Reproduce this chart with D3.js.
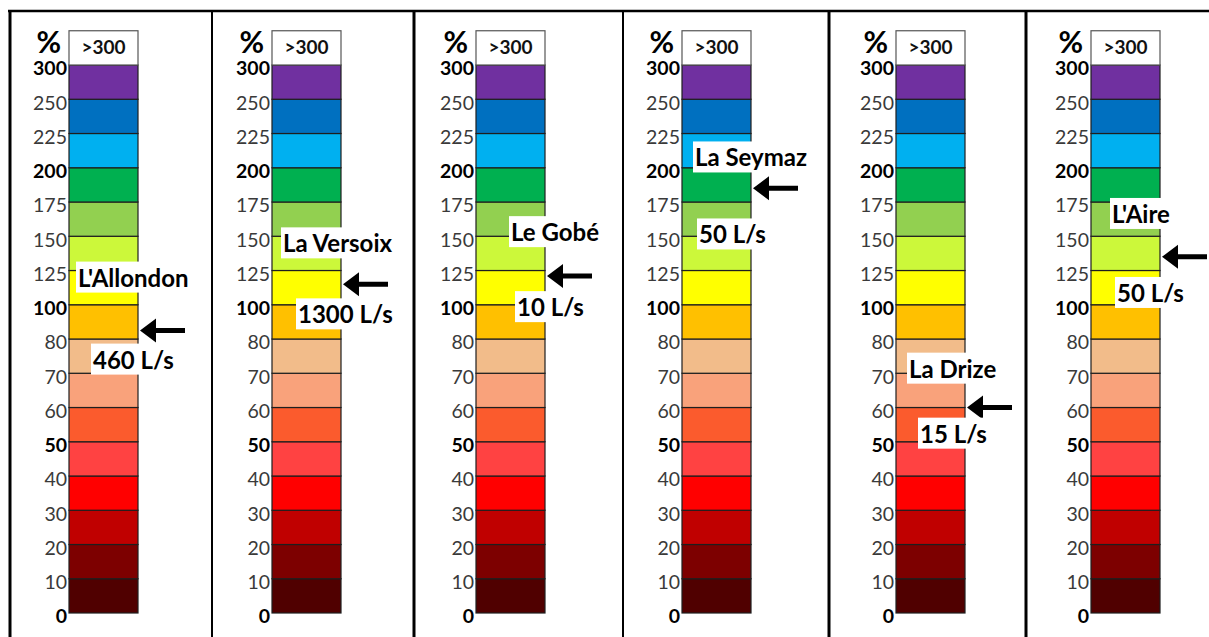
<!DOCTYPE html>
<html>
<head>
<meta charset="utf-8">
<script src="https://cdn.jsdelivr.net/npm/d3@7"></script>
<style>
  html, body { margin: 0; padding: 0; background: #fff; }
  svg { display: block; font-family: Lato, "Noto Sans", sans-serif; }
</style>
</head>
<body>
<svg id="chart" width="1209" height="637"></svg>
<script>
// ---------- data ----------
const boundaries = [0, 10, 20, 30, 40, 50, 60, 70, 80, 100, 125, 150, 175, 200, 225, 250, 300];
const tickLabels = ["0", "10", "20", "30", "40", "50", "60", "70", "80", "100", "125", "150", "175", "200", "225", "250", "300"];
const boldTicks = ["0", "50", "100", "200", "300"];
const bandColors = ["#500000", "#7d0000", "#c00000", "#ff0000", "#ff4242", "#fb5b2d", "#f9a27b", "#f2bc8a",
                    "#ffc000", "#ffff00", "#ccf83a", "#92d050", "#00b050", "#00b0f0", "#0070c0", "#7030a0"];
const topLabel = ">300";
const rivers = ["L'Allondon", "La Versoix", "Le Gobé", "La Seymaz", "La Drize", "L'Aire"];
const flows = ["460 L/s", "1300 L/s", "10 L/s", "50 L/s", "15 L/s", "50 L/s"];
const levels = [85, 115, 121, 185, 60, 135];

// ---------- layout ----------
const W = 1209, H = 637;
const dividers = [10, 212, 414, 623, 829, 1026];
const dividerWidths = [3, 2, 3, 2, 3, 3];
const barLefts = [69, 272, 476, 682, 896, 1091];
const barW = 69;
const yTop = 65, yBottom = 613;
// label offsets relative to the bar left and the arrow y (layout only)
const nameDX = [9, 11, 35, 13, 13, 21];
const nameDY = [-50, -38, -41, -28, -36, -40];
const flowDX = [24, 26, 41, 17, 24, 26];
const flowDY = [32, 33, 34, 49, 29, 39];

const svg = d3.select("#chart");
svg.append("rect").attr("width", W).attr("height", H).attr("fill", "#fff");

// positional scale: equal spacing between boundaries
const yPoint = d3.scalePoint().domain(tickLabels).range([yBottom, yTop]);
const yVal = d3.scaleLinear().domain(boundaries).range(tickLabels.map(t => yPoint(t)));
const bandH = yPoint.step();

// table grid
svg.append("line").attr("x1", 8).attr("x2", W).attr("y1", 11).attr("y2", 11)
  .attr("stroke", "#000").attr("stroke-width", 2.5);
dividers.forEach((x, i) => {
  svg.append("line").attr("x1", x).attr("x2", x).attr("y1", 10).attr("y2", H)
    .attr("stroke", "#000").attr("stroke-width", dividerWidths[i]);
});

const bands = d3.range(bandColors.length).map(i => ({ lo: boundaries[i], hi: boundaries[i + 1], color: bandColors[i] }));

barLefts.forEach((bx, p) => {
  const g = svg.append("g");
  const x = d3.scaleLinear().domain([0, 1]).range([bx, bx + barW]);

  // bands
  g.selectAll("rect.band").data(bands).join("rect")
    .attr("class", "band")
    .attr("x", x(0)).attr("width", x(1) - x(0))
    .attr("y", d => yVal(d.hi)).attr("height", d => yVal(d.lo) - yVal(d.hi))
    .attr("fill", d => d.color)
    .attr("stroke", "#1e1e1e").attr("stroke-width", 1.2);

  // top ">300" box
  g.append("rect")
    .attr("x", x(0)).attr("width", x(1) - x(0))
    .attr("y", yVal(300) - bandH).attr("height", bandH)
    .attr("fill", "#fff").attr("stroke", "#555").attr("stroke-width", 1.2);
  g.append("text")
    .attr("x", (x(0) + x(1)) / 2).attr("y", yVal(300) - bandH / 2 + 1)
    .attr("text-anchor", "middle").attr("dominant-baseline", "middle")
    .attr("font-size", 19).attr("font-weight", 700).attr("fill", "#111")
    .text(topLabel);

  // axis labels
  const axis = d3.axisLeft(yPoint).tickSize(0).tickPadding(2);
  const ag = g.append("g").attr("transform", `translate(${bx},0)`).call(axis);
  ag.select(".domain").remove();
  ag.selectAll("text")
    .attr("font-family", "Lato, 'Noto Sans', sans-serif")
    .attr("font-size", 19.5)
    .attr("dy", "0.5em")
    .attr("font-weight", d => boldTicks.includes(d) ? 700 : 400)
    .attr("fill", d => boldTicks.includes(d) ? "#000" : "#3a3a3a");

  // % sign
  g.append("text")
    .attr("x", bx - 8).attr("y", 53)
    .attr("text-anchor", "end")
    .attr("font-size", 30).attr("font-weight", 700).attr("fill", "#000")
    .text("%");

  // arrow
  const ay = yVal(levels[p]);
  const tip = x(1) + 2;
  const len = 45, headL = 16, headH = 24, shaft = 5;
  g.append("path")
    .attr("d", `M${tip},${ay} L${tip + headL},${ay - headH / 2} L${tip + headL},${ay - shaft / 2}
                L${tip + len},${ay - shaft / 2} L${tip + len},${ay + shaft / 2} L${tip + headL},${ay + shaft / 2}
                L${tip + headL},${ay + headH / 2} Z`)
    .attr("fill", "#000");

  // labels with white boxes
  function boxedLabel(txt, lx, ly) {
    const lg = g.append("g");
    const rect = lg.append("rect").attr("fill", "#fff");
    const t = lg.append("text")
      .attr("x", lx).attr("y", ly)
      .attr("dominant-baseline", "middle")
      .attr("font-size", 24).attr("font-weight", 700).attr("fill", "#000")
      .text(txt);
    const bb = t.node().getBBox();
    rect.attr("x", bb.x - 2).attr("y", bb.y - 1).attr("width", bb.width + 4).attr("height", bb.height + 2);
  }
  boxedLabel(rivers[p], bx + nameDX[p], ay + nameDY[p]);
  boxedLabel(flows[p], bx + flowDX[p], ay + flowDY[p]);
});
</script>
</body>
</html>
